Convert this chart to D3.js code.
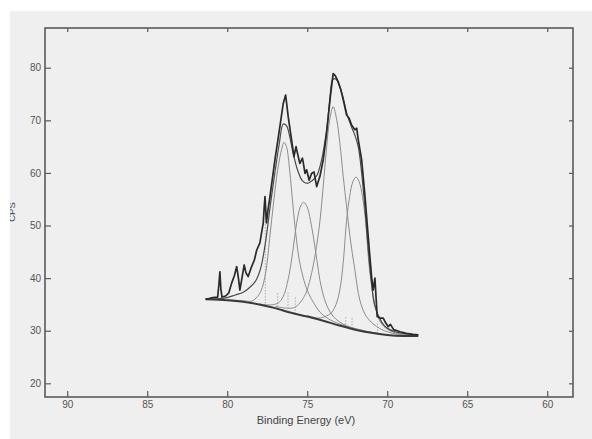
<!DOCTYPE html>
<html><head><meta charset="utf-8">
<script src="https://cdn.jsdelivr.net/npm/d3@7"></script>
<style>html,body{margin:0;padding:0;background:#fff;}svg{display:block;}</style>
</head><body>
<svg id="chart" width="592" height="439"></svg>
<script>
// ---- data (binding energy eV, intensity) ----
const xTickValues = [90, 85, 80, 75, 70, 65, 60];
const yTickValues = [20, 30, 40, 50, 60, 70, 80];
const xTitle = "Binding Energy (eV)";
const yTitle = "CPS";

const rawSpectrum = [
  [81.35,36.0],[81.15,36.1],[80.9,36.3],[80.6,36.4],[80.52,38.8],[80.46,41.2],[80.4,38.0],[80.33,36.4],
  [80.1,36.6],[79.9,37.2],[79.73,39.0],[79.55,40.5],[79.41,42.2],[79.3,40.0],[79.21,37.7],[79.08,40.0],
  [78.94,42.5],[78.83,41.0],[78.69,40.3],[78.5,42.0],[78.3,43.5],[78.16,45.3],[77.96,46.7],[77.75,50.5],
  [77.7,53.0],[77.64,55.5],[77.55,50.5],[77.45,53.0],[77.33,55.5],[77.02,62.5],[76.71,68.8],[76.5,73.2],
  [76.35,74.8],[76.19,70.7],[75.98,66.3],[75.83,63.1],[75.7,65.0],[75.63,64.0],[75.46,61.8],[75.3,62.8],
  [75.25,62.0],[75.14,59.9],[75.04,60.6],[74.88,58.6],[74.73,59.9],[74.58,60.2],[74.41,57.4],[74.21,59.3],
  [74.0,62.5],[73.79,67.5],[73.58,73.9],[73.38,78.9],[73.25,78.5],[73.06,77.3],[72.9,75.8],[72.75,73.9],
  [72.54,71.0],[72.38,70.4],[72.23,69.1],[72.02,68.2],[71.91,68.5],[71.81,66.3],[71.6,62.5],[71.39,55.5],
  [71.19,47.9],[70.98,40.3],[70.88,37.7],[70.77,40.0],[70.63,32.7],[70.45,32.4],[70.25,32.4],[70.1,31.5],
  [69.94,30.8],[69.8,31.2],[69.6,30.2],[69.2,29.8],[68.8,29.5],[68.4,29.3],[68.06,29.2]
];

const fitEnvelope = [
  [81.35,36.0],[80.5,36.1],[80.0,36.3],[79.5,36.8],[79.0,37.3],[78.5,38.5],[78.2,39.6],[77.9,42.0],
  [77.6,47.0],[77.3,54.0],[77.0,60.5],[76.75,65.5],[76.5,69.3],[76.3,69.0],[76.1,67.0],[75.9,64.0],
  [75.6,60.5],[75.3,58.5],[75.0,58.0],[74.7,58.5],[74.4,59.5],[74.1,62.5],[73.8,68.0],[73.6,73.5],
  [73.4,77.8],[73.2,77.8],[73.0,76.6],[72.8,74.8],[72.5,71.0],[72.2,68.5],[72.0,67.0],[71.8,64.8],
  [71.6,60.0],[71.4,53.5],[71.2,46.0],[71.0,39.5],[70.8,35.0],[70.5,32.5],[70.2,31.0],[69.9,30.3],
  [69.5,29.8],[69.0,29.5],[68.5,29.3],[68.06,29.2]
];

const backgroundLine = [
  [81.35,36.0],[80.0,35.8],[79.0,35.5],[78.0,35.0],[77.0,34.3],[76.0,33.4],[75.0,32.7],[74.0,31.9],
  [73.0,31.0],[72.0,30.2],[71.0,29.6],[70.0,29.2],[69.0,29.0],[68.06,29.0]
];

const peakA = [
  [80.0,35.9],[79.0,35.7],[78.5,35.6],[78.2,36.2],[77.9,37.5],[77.6,41.0],[77.35,47.5],[77.1,54.5],
  [76.85,60.5],[76.6,64.5],[76.45,65.8],[76.3,65.0],[76.1,60.5],[75.9,54.0],[75.7,48.0],[75.5,43.5],
  [75.2,39.5],[74.9,37.0],[74.6,35.3],[74.2,33.5],[73.7,32.3],[73.0,31.3],[72.0,30.4],[71.0,29.7]
];
const peakB = [
  [78.0,35.1],[77.3,34.9],[76.8,35.3],[76.5,36.5],[76.25,39.0],[76.0,43.0],[75.8,47.5],[75.6,51.5],
  [75.4,53.8],[75.22,54.4],[75.0,53.5],[74.8,51.0],[74.6,47.5],[74.4,43.5],[74.2,39.5],[74.0,36.8],
  [73.7,34.3],[73.4,32.8],[73.0,31.7],[72.5,30.9],[71.5,30.0],[70.5,29.5]
];
const peakC = [
  [77.0,34.6],[76.3,34.3],[75.8,34.4],[75.46,35.3],[75.1,37.0],[74.8,40.0],[74.5,44.5],[74.2,51.0],
  [74.0,57.5],[73.8,64.5],[73.6,70.0],[73.38,72.6],[73.15,70.0],[72.96,65.6],[72.75,59.3],[72.54,53.6],
  [72.33,47.9],[72.02,41.5],[71.71,35.8],[71.3,32.7],[70.66,30.8],[70.0,29.8],[69.3,29.3],[68.6,29.1]
];
const peakD = [
  [75.0,32.9],[74.3,32.4],[73.8,32.8],[73.5,33.4],[73.2,35.0],[72.95,38.0],[72.75,43.0],[72.54,51.0],
  [72.35,55.5],[72.15,58.3],[71.95,59.2],[71.75,58.3],[71.55,55.5],[71.36,51.0],[71.15,43.0],[70.95,38.0],
  [70.7,34.0],[70.4,31.5],[70.0,30.3],[69.5,29.6],[69.0,29.3],[68.5,29.1]
];
const dropLines = [
  [77.62,34.6,55.0],[76.85,34.0,37.2],[76.2,33.6,37.5],[75.75,33.2,36.5],[72.6,30.6,32.8],[72.2,30.4,32.5],[70.6,29.4,31.8]
];

// ---- chart ----
const svg = d3.select("#chart");
const W = 592, H = 439;
const plot = {left: 45, right: 573, top: 28, bottom: 397};

svg.append("rect").attr("x", 10).attr("y", 11).attr("width", W - 10).attr("height", H - 11).attr("fill", "#efefef");

const x = d3.scaleLinear().domain([91.39, 58.39]).range([plot.left, plot.right]);
const y = d3.scaleLinear().domain([17.4, 87.55]).range([plot.bottom, plot.top]);

const axisColor = "#5a5a5a";
const labelFont = "Liberation Sans, Arial, sans-serif";

// axes with inward ticks
const gB = svg.append("g").attr("transform", `translate(0,${plot.bottom})`)
  .call(d3.axisBottom(x).tickValues(xTickValues).tickSizeInner(-6).tickSizeOuter(0).tickPadding(4).tickFormat(d3.format("d")));
const gT = svg.append("g").attr("transform", `translate(0,${plot.top})`)
  .call(d3.axisTop(x).tickValues(xTickValues).tickSizeInner(-4).tickSizeOuter(0).tickFormat(""));
const gL = svg.append("g").attr("transform", `translate(${plot.left},0)`)
  .call(d3.axisLeft(y).tickValues(yTickValues).tickSizeInner(-6).tickSizeOuter(0).tickPadding(4).tickFormat(d3.format("d")));
const gR = svg.append("g").attr("transform", `translate(${plot.right},0)`)
  .call(d3.axisRight(y).tickValues(yTickValues).tickSizeInner(-4).tickSizeOuter(0).tickFormat(""));

[gB, gT, gL, gR].forEach(g => {
  g.select(".domain").remove();
  g.selectAll(".tick line").attr("stroke", axisColor).attr("stroke-width", 1.2);
  g.selectAll("text").attr("fill", "#555").attr("font-family", labelFont).attr("font-size", 10);
});

svg.append("rect").attr("x", plot.left).attr("y", plot.top)
  .attr("width", plot.right - plot.left).attr("height", plot.bottom - plot.top)
  .attr("fill", "none").attr("stroke", axisColor).attr("stroke-width", 1.6);

svg.append("text").attr("x", 306).attr("y", 424).attr("text-anchor", "middle")
  .attr("font-family", labelFont).attr("font-size", 11).attr("fill", "#444").text(xTitle);

svg.append("clipPath").attr("id", "yclip").append("rect").attr("x", 10).attr("y", 0).attr("width", 40).attr("height", H);
svg.append("g").attr("clip-path", "url(#yclip)")
  .append("text").attr("transform", "translate(15,212) rotate(-90)").attr("text-anchor", "middle")
  .attr("font-family", labelFont).attr("font-size", 9.5).attr("fill", "#444").text(yTitle);

const smooth = d3.line().x(d => x(d[0])).y(d => y(d[1])).curve(d3.curveCatmullRom.alpha(0.5));
const jag = d3.line().x(d => x(d[0])).y(d => y(d[1])).curve(d3.curveLinear);

// drop lines
svg.append("g").selectAll("line").data(dropLines).join("line")
  .attr("x1", d => x(d[0])).attr("x2", d => x(d[0]))
  .attr("y1", d => y(d[1])).attr("y2", d => y(d[2]))
  .attr("stroke", "#9a9a9a").attr("stroke-width", 0.8).attr("stroke-dasharray", "1.5,1.5");

// components
[peakA, peakB, peakC, peakD].forEach(p => {
  svg.append("path").datum(p).attr("d", smooth).attr("fill", "none")
    .attr("stroke", "#8c8c8c").attr("stroke-width", 1);
});

svg.append("path").datum(backgroundLine).attr("d", smooth).attr("fill", "none")
  .attr("stroke", "#3a3a3a").attr("stroke-width", 2);
svg.append("path").datum(fitEnvelope).attr("d", smooth).attr("fill", "none")
  .attr("stroke", "#4a4a4a").attr("stroke-width", 1.2);
svg.append("path").datum(rawSpectrum).attr("d", jag).attr("fill", "none")
  .attr("stroke", "#2a2a2a").attr("stroke-width", 1.7).attr("stroke-linejoin", "round");
</script>
</body></html>
